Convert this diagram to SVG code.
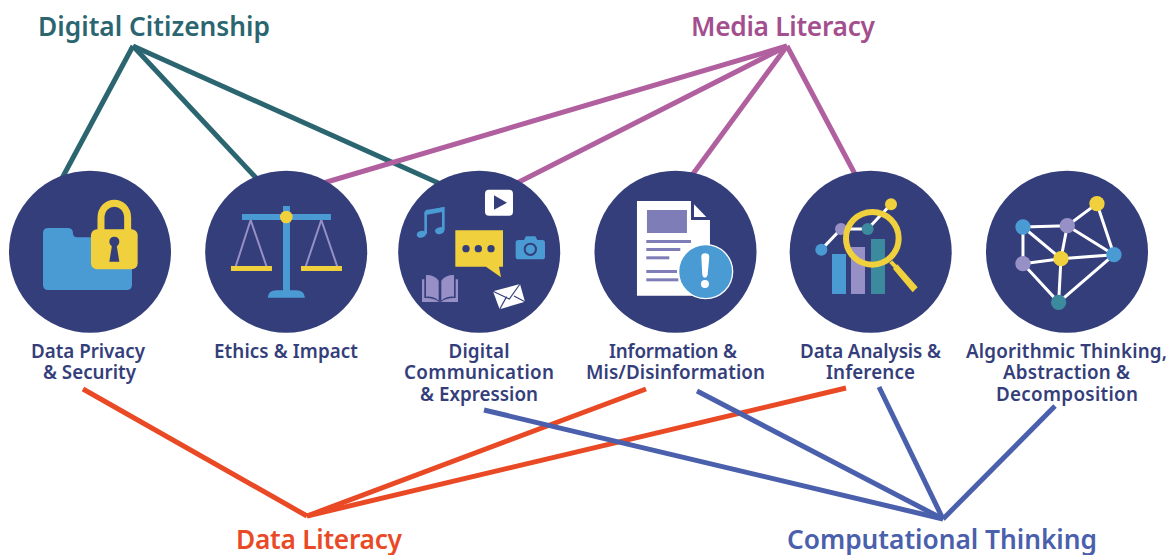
<svg xmlns="http://www.w3.org/2000/svg" width="1174" height="555" viewBox="0 0 1174 555">
<style>
text{font-family:"Noto Sans","Open Sans","Liberation Sans",sans-serif;font-weight:600;text-anchor:middle}
.t{font-size:26.3px}
.l{font-size:18.8px;fill:#343e7a}
.c{fill:#343e7a}
.dc{stroke:#2b6670}.ml{stroke:#b1609f}.dl{stroke:#e94a25}.ct{stroke:#4a60ac}
#connectors line{stroke-width:5;fill:none}
.b{fill:#4a9ad4}.y{fill:#f0d03c}.p{fill:#9790c6}.g{fill:#3c8a9e}.w{fill:#fff}
.wl{stroke:#fff;stroke-width:9;fill:none}
</style>
<rect width="1174" height="555" fill="#fff"/>
<g id="connectors">
<line class="dc" x1="133" y1="46" x2="60" y2="182"/>
<line class="dc" x1="133" y1="46" x2="258" y2="180"/>
<line class="dc" x1="133" y1="46" x2="445" y2="186"/>
<line class="ml" x1="787" y1="46" x2="320" y2="184"/>
<line class="ml" x1="787" y1="46" x2="515" y2="184"/>
<line class="ml" x1="787" y1="46" x2="690" y2="178"/>
<line class="ml" x1="787" y1="46" x2="856" y2="176"/>
<line class="dl" x1="307" y1="516" x2="83" y2="389"/>
<line class="dl" x1="307" y1="516" x2="646" y2="389"/>
<line class="dl" x1="307" y1="516" x2="846" y2="388"/>
<line class="ct" x1="943" y1="519" x2="484" y2="410"/>
<line class="ct" x1="943" y1="519" x2="697" y2="391"/>
<line class="ct" x1="943" y1="519" x2="879" y2="387"/>
<line class="ct" x1="943" y1="519" x2="1055" y2="406"/>
</g>
<g id="title-digital-citizenship"><text class="t" x="154" y="36" fill="#2b6670" textLength="232">Digital Citizenship</text></g>
<g id="title-media-literacy"><text class="t" x="783" y="36" fill="#a34f8f" textLength="184">Media Literacy</text></g>
<g id="title-data-literacy"><text class="t" x="319" y="549" fill="#e94a25" textLength="166">Data Literacy</text></g>
<g id="title-computational-thinking"><text class="t" x="942" y="549" fill="#4a60ac" textLength="310">Computational Thinking</text></g>
<g id="node-privacy">
<circle class="c" cx="90" cy="251.7" r="81"/>
<g transform="translate(0,160) scale(.3333)">
<path class="b" d="M145 204H203Q219 204 219 220Q219 232 232 232H380Q396 232 396 248V374Q396 390 380 390H145Q129 390 129 374V220Q129 204 145 204Z"/>
<path d="M303 215V175C303 115 383 115 383 175V215" fill="none" stroke="#f0d03c" stroke-width="21"/>
<rect class="y" x="273" y="208" width="140" height="120" rx="18"/>
<circle class="c" cx="343" cy="245" r="15"/>
<path class="c" d="M337 250H349L358 305H328Z"/>
</g>
<text class="l" x="88" y="358" textLength="114">Data Privacy</text><text class="l" x="89.500" y="379" textLength="93">&amp; Security</text>
</g>
<g id="node-ethics">
<circle class="c" cx="286.2" cy="251.7" r="81"/>
<g transform="translate(0,160) scale(.3333)">
<path d="M752 180L707 320M752 180L800 320M964 180L917 320M964 180L1012 320" fill="none" stroke="#9790c6" stroke-width="6"/>
<rect class="b" x="849" y="138" width="21" height="260"/>
<rect class="b" x="726" y="162" width="267" height="18"/>
<path class="b" d="M803 413Q805 391 830 391H888Q913 391 915 413Z"/>
<circle class="y" cx="859" cy="171" r="19"/>
<rect class="y" x="693" y="318" width="123" height="15"/>
<rect class="y" x="903" y="318" width="123" height="15"/>
</g>
<text class="l" x="286" y="358" textLength="144">Ethics &amp; Impact</text>
</g>
<g id="node-communication">
<circle class="c" cx="479.2" cy="251.7" r="81"/>
<g transform="translate(390,160) scale(.3333)">
<rect class="w" x="285" y="89" width="84" height="78" rx="12"/>
<path class="c" d="M312 106L351 128L312 149Z"/>
<path d="M107 222L107 158L160 145L160 210" fill="none" stroke="#4a9ad4" stroke-width="8"/>
<ellipse class="b" cx="94" cy="223" rx="14" ry="10" transform="rotate(-15 94 223)"/>
<ellipse class="b" cx="149" cy="212" rx="14" ry="10" transform="rotate(-15 149 212)"/>
<path class="b" d="M107 150L160 142V155L107 165Z"/>
<path class="y" d="M196 211H339V320H327L333 352L288 320H196Z"/>
<circle class="c" cx="228" cy="266" r="11"/><circle class="c" cx="265" cy="266" r="11"/><circle class="c" cx="303" cy="266" r="11"/>
<path class="b" d="M385 240H402L408 229H436L442 240H457Q465 240 465 248V290Q465 298 457 298H385Q377 298 377 290V248Q377 240 385 240Z"/>
<circle cx="421" cy="268" r="17" fill="#4a9ad4" stroke="#343e7a" stroke-width="6"/>
<path class="p" d="M108 345Q135 345 146 362V422Q130 408 108 410ZM154 362Q165 345 192 345V410Q170 408 154 422Z"/>
<path class="p" d="M96 358H103V414Q130 412 146 425H154Q170 412 197 414V358H204V426H96Z"/>
<path class="w" d="M309 394L390 372L405 425L329 448Z"/>
<path d="M309 394L358 417L390 372M329 448L350 410M405 425L372 408" fill="none" stroke="#343e7a" stroke-width="3.500"/>
</g>
<text class="l" x="479" y="358" textLength="61">Digital</text><text class="l" x="479" y="379" textLength="150">Communication</text><text class="l" x="479" y="401" textLength="118">&amp; Expression</text>
</g>
<g id="node-information">
<circle class="c" cx="675.5" cy="251.7" r="81"/>
<g transform="translate(390,160) scale(.3333)">
<path class="w" d="M741 123H903V180H960V407H741Z"/>
<path class="w" d="M912 133L949 171H912Z"/>
<rect x="771" y="150" width="120" height="69" fill="#7f7db8"/>
<g fill="#7f7db8"><rect x="769" y="240" width="134" height="9"/><rect x="769" y="264" width="102" height="9"/><rect x="769" y="289" width="69" height="9"/><rect x="769" y="330" width="92" height="9"/><rect x="769" y="355" width="96" height="9"/></g>
<circle class="b" cx="947" cy="335" r="81" stroke="#fff" stroke-width="4"/>
<path class="w" d="M934 290Q934 280 945 280Q958 280 958 290L953 345Q951 353 945 353Q938 353 937 345Z"/>
<circle class="w" cx="945" cy="372" r="12"/>
</g>
<text class="l" x="673" y="358" textLength="128">Information &amp;</text><text class="l" x="675.500" y="379" textLength="179">Mis/Disinformation</text>
</g>
<g id="node-analysis">
<circle class="c" cx="870.7" cy="251.7" r="81"/>
<g transform="translate(780,160) scale(.3333)">
<rect class="b" x="156" y="282" width="42" height="120"/>
<rect class="p" x="213" y="261" width="42" height="141"/>
<rect class="g" x="273" y="237" width="42" height="165"/>
<path class="wl" d="M124 269L183 207L263 207L333 133"/>
<circle class="b" cx="124" cy="269" r="18"/><circle class="p" cx="183" cy="207" r="18"/><circle class="g" cx="263" cy="207" r="18"/><circle class="y" cx="333" cy="133" r="18"/>
<circle cx="277" cy="235" r="79" fill="none" stroke="#f0d03c" stroke-width="18"/>
<path d="M332 305L350 324" stroke="#f0d03c" stroke-width="12"/>
<path class="y" d="M352 313L413 382L398 397L339 326Z"/>
</g>
<text class="l" x="870.500" y="358" textLength="141">Data Analysis &amp;</text><text class="l" x="870.500" y="379" textLength="89">Inference</text>
</g>
<g id="node-algorithmic">
<circle class="c" cx="1067" cy="251.7" r="81"/>
<g transform="translate(780,160) scale(.3333)">
<path class="wl" d="M729 201L862 197L951 131L1002 284L836 427L729 311ZM729 201V311M729 201L843 296M862 197L843 296M862 197L1002 284M729 311L843 296L1002 284M843 296L836 427"/>
<circle class="b" cx="729" cy="201" r="23"/><circle class="p" cx="862" cy="197" r="23"/><circle class="y" cx="951" cy="131" r="23"/><circle class="b" cx="1002" cy="284" r="23"/><circle class="y" cx="843" cy="296" r="23"/><circle class="p" cx="729" cy="311" r="23"/><circle class="g" cx="836" cy="427" r="23"/>
</g>
<text class="l" x="1066.500" y="358" textLength="201">Algorithmic Thinking,</text><text class="l" x="1066.500" y="379" textLength="127">Abstraction &amp;</text><text class="l" x="1067" y="401" textLength="142">Decomposition</text>
</g>
</svg>
